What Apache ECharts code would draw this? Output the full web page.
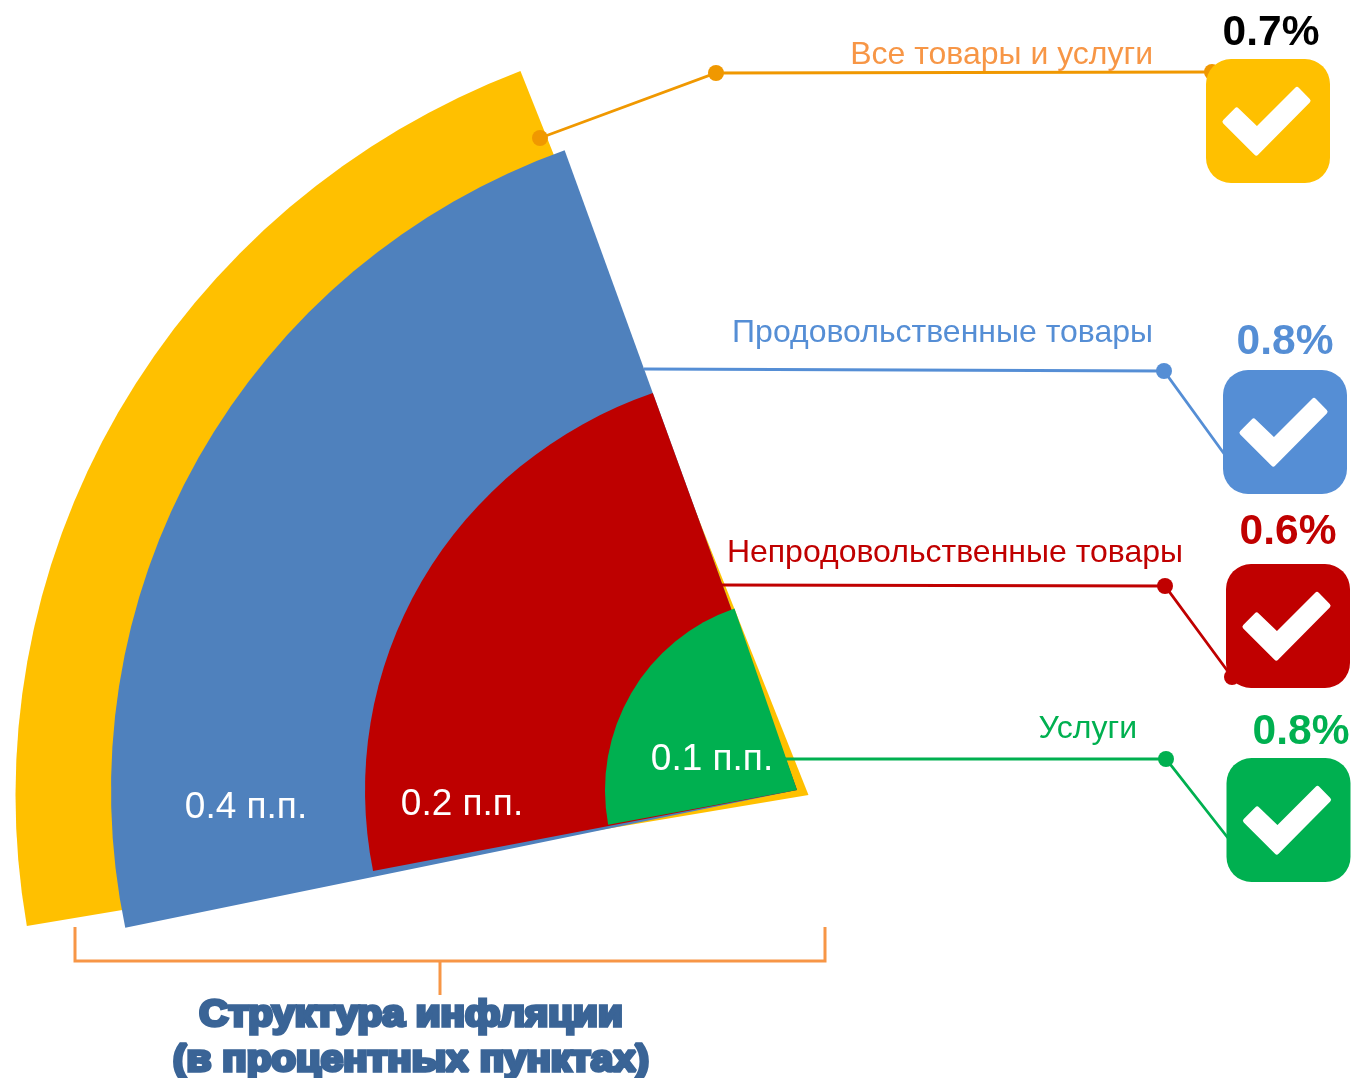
<!DOCTYPE html>
<html><head><meta charset="utf-8">
<style>html,body{margin:0;padding:0;background:#fff}#c{width:1353px;height:1078px}</style>
<script src="https://cdn.jsdelivr.net/npm/echarts@6/dist/echarts.min.js"></script>
</head><body><div id="c"></div>
<script>
const categories = ['Все товары и услуги','Продовольственные товары','Непродовольственные товары','Услуги'];
const contributions = [0.7,0.4,0.2,0.1];
const contributionLabels = [null,'0.4 п.п.','0.2 п.п.','0.1 п.п.'];
const inflation = ['0.7%','0.8%','0.6%','0.8%'];
const titleLines = ['Структура инфляции','(в процентных пунктах)'];

const FONT = '"Liberation Sans", Arial, sans-serif';
const layout = [
 {sector:'#FFC000',cx:808.5,cy:795,r:793,sy:0.98,from:189.7,to:111.3,label:'#F79646',line:'#F09800',tile:'#FFC000',pct:'#000000',tx:1206,ty:59,
  lab:[1153,55],pctPos:[1271,33],path:[[540,138],[716,73],[1212,72]],dots:[[540,138],[716,73],[1212,72]]},
 {sector:'#4F81BD',cx:797,cy:790,r:686,sy:0.991,from:191.7,to:109.8,label:'#558ED5',line:'#558ED5',tile:'#558ED5',pct:'#558ED5',tx:1223,ty:370,
  lab:[1153,333],pctPos:[1285,342],path:[[644,369],[1164,371],[1225,455]],dots:[[1164,371]],val:[246,808]},
 {sector:'#BE0000',cx:797,cy:790,r:432,sy:0.975,from:191.1,to:109.5,label:'#C00000',line:'#C00000',tile:'#C00000',pct:'#C00000',tx:1226,ty:564,
  lab:[1183,553],pctPos:[1288,532],path:[[722,585],[1165,586],[1232,677]],dots:[[1165,586],[1232,677]],val:[462,805]},
 {sector:'#00B050',cx:797,cy:790,r:192,sy:1,from:190.4,to:109,label:'#00B050',line:'#00B050',tile:'#00B050',pct:'#00B050',tx:1226.5,ty:758,
  lab:[1137,729],pctPos:[1301,732],path:[[785,759],[1166,759],[1228,838]],dots:[[1166,759]],val:[712,760]}
];

const series = [{
  type:'custom', coordinateSystem:'none', silent:true, animation:false, z:2,
  data: contributions.map((v,i)=>({name:categories[i],value:[i,v]})),
  encode:{tooltip:1},
  renderItem:(params,api)=>{
    const l = layout[api.value(0)];
    return {
      type:'sector', x:l.cx, y:l.cy, scaleY:l.sy,
      shape:{cx:0,cy:0,r0:0,r:l.r,startAngle:-l.from*Math.PI/180,endAngle:-l.to*Math.PI/180,clockwise:true},
      style:{fill:l.sector}
    };
  }
}];

const check = [[19,62.7],[30.7,51],[51,70.5],[91,30.5],[102,41.7],[50.3,94]];
const g = [];
let z = 50;
layout.forEach((l,i)=>{
  g.push({type:'polyline',z:z++,shape:{points:l.path},style:{fill:null,stroke:l.line,lineWidth:2.8}});
  l.dots.forEach(d=>g.push({type:'circle',z:z++,shape:{cx:d[0],cy:d[1],r:8},style:{fill:l.line}}));
  g.push({type:'rect',z:z++,shape:{x:l.tx,y:l.ty,width:124,height:124,r:25},style:{fill:l.tile}});
  g.push({type:'polygon',z:z++,shape:{points:check.map(p=>[l.tx+p[0],l.ty+p[1]])},style:{fill:'#fff',stroke:'#fff',lineWidth:5,lineJoin:'round'}});
  g.push({type:'text',z:z++,x:l.lab[0],y:l.lab[1],style:{text:categories[i],fill:l.label,font:'32px '+FONT,align:'right',verticalAlign:'middle'}});
  g.push({type:'text',z:z++,x:l.pctPos[0],y:l.pctPos[1],style:{text:inflation[i],fill:l.pct,font:'bold 42.5px '+FONT,align:'center',verticalAlign:'middle'}});
  if(l.val) g.push({type:'text',z:z++,x:l.val[0],y:l.val[1],style:{text:contributionLabels[i],fill:'#fff',font:'37px '+FONT,align:'center',verticalAlign:'middle'}});
});
const bracket='#F79646';
g.push({type:'polyline',z:z++,shape:{points:[[75,927],[75,961],[825,961],[825,927]]},style:{fill:null,stroke:bracket,lineWidth:3}});
g.push({type:'line',z:z++,shape:{x1:440,y1:961,x2:440,y2:995},style:{stroke:bracket,lineWidth:3}});
titleLines.forEach((t,i)=>g.push({type:'text',z:z++,x:411,y:1016+i*45,scaleX:1.12,style:{text:t,fill:'#3A6496',stroke:'#3A6496',lineWidth:3.5,font:'bold 36px '+FONT,align:'center',verticalAlign:'middle'}}));

const chart = echarts.init(document.getElementById('c'),null,{renderer:'canvas'});
chart.setOption({animation:false,backgroundColor:'#fff',series,graphic:{elements:g}});
</script></body></html>
